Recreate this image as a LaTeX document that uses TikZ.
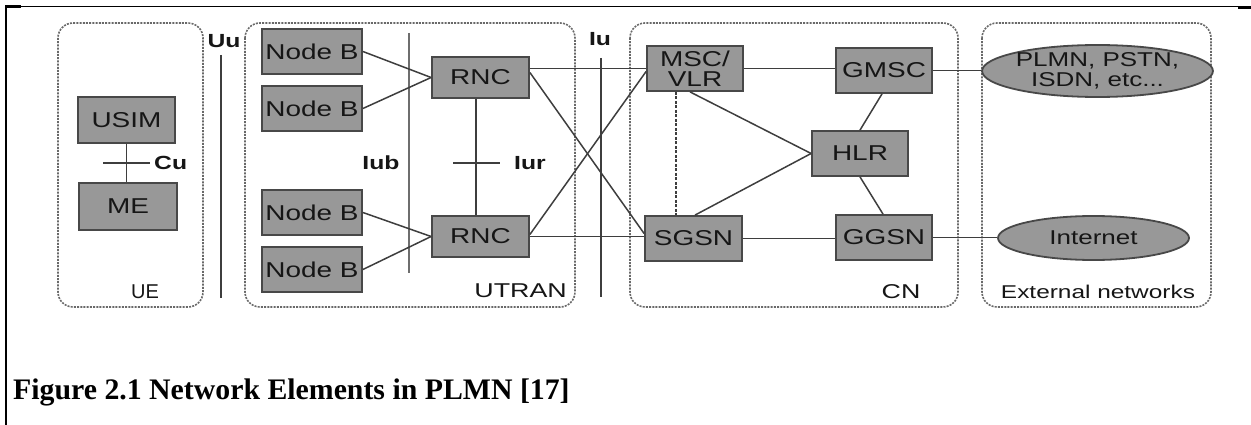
\documentclass[tikz,border=0pt]{standalone}
\usepackage{fontspec}
\setmainfont{Liberation Serif}
\setsansfont{Liberation Sans}
\usepackage{graphicx}
\usetikzlibrary{shapes.geometric}

\definecolor{boxfill}{RGB}{152,152,152}
\definecolor{boxline}{RGB}{72,72,72}
\definecolor{wirecol}{RGB}{62,62,62}
\definecolor{groupcol}{RGB}{105,105,105}
\definecolor{ink}{RGB}{22,22,22}

% horizontally widened sans lettering
\newcommand{\hs}[1]{\scalebox{1.3}[1]{#1}}
\newcommand{\hl}[1]{\scalebox{1.34}[1]{#1}}

\begin{document}
\begin{tikzpicture}[x=1pt,y=-1pt,
  elem/.style={draw=boxline, fill=boxfill, line width=1.8pt,
    minimum width=97pt, minimum height=45pt, inner sep=0pt,
    text=ink, font=\sffamily\fontsize{21.5}{20}\selectfont, align=center},
  cloud/.style={ellipse, draw=boxline, fill=boxfill, line width=1.8pt,
    inner sep=0pt, text=ink, font=\sffamily\fontsize{20}{20}\selectfont, align=center},
  group/.style={draw=groupcol, line width=1.6pt, dash pattern=on 2pt off 1.2pt,
    rounded corners=15pt},
  wire/.style={draw=wirecol, line width=1.5pt},
  iface/.style={draw=wirecol, line width=2pt},
  glabel/.style={text=ink, font=\sffamily\fontsize{20}{20}\selectfont, inner sep=0pt},
  ilabel/.style={text=ink, font=\sffamily\bfseries\fontsize{19}{20}\selectfont, inner sep=0pt}
]
\useasboundingbox (0,0) rectangle (1251,425);

% page frame
\draw[line width=1.1pt] (6,6.8) -- (1251,6.8);
\draw[line width=2.3pt] (6.2,6) -- (6.2,425);
\draw[line width=3pt] (5,6.6) -- (21,6.6);
\draw[line width=2.7pt] (1238,8) -- (1251,8);

% domain groups
\draw[group] (58,23) rectangle (203,307);
\draw[group] (245,23) rectangle (575,307);
\draw[group] (630,23) rectangle (958,307);
\draw[group] (982,23) rectangle (1211,307);

\node[glabel] (uelbl) at (145,292) {UE};
\node[glabel, anchor=east] (utranlbl) at (567,291) {\hl{UTRAN}};
\node[glabel] (cnlbl) at (901,292) {\hl{CN}};
\node[glabel, font=\sffamily\fontsize{18.5}{20}\selectfont] (extlbl) at (1098,292) {\scalebox{1.32}[1]{External networks}};

% interface reference lines
\coordinate (uuT) at (221,55);  \coordinate (uuB) at (221,298);
\coordinate (iubT) at (409,33); \coordinate (iubB) at (409,273);
\coordinate (iuT) at (601,58);  \coordinate (iuB) at (601,297);
\draw[iface] (uuT) -- (uuB);
\draw[iface, draw=wirecol!75, line width=1.8pt] (iubT) -- (iubB);
\draw[iface] (iuT) -- (iuB);
\node[ilabel] (uulbl) at (224,41) {\hs{Uu}};
\node[ilabel] (iulbl) at (600,39) {\hs{Iu}};
\node[ilabel] (iublbl) at (381,163) {\hs{Iub}};

% user equipment
\node[elem, minimum width=97pt, minimum height=46pt] (usim) at (126.5,120) {\hs{USIM}};
\node[elem, minimum width=98pt, minimum height=47pt] (me) at (128,206.5) {\hs{ME}};
\draw[wire] (usim.south) -- (usim.south |- me.north);
\coordinate (cuL) at (103,163); \coordinate (cuR) at (150,163);
\draw[wire] (cuL) -- (cuR);
\node[ilabel, anchor=west] (culbl) at (154,163) {\hs{Cu}};

% radio access network
\node[elem, minimum width=100pt] (nb1) at (312,51.5) {\hs{Node B}};
\node[elem, minimum width=100pt] (nb2) at (312,108.5) {\hs{Node B}};
\node[elem, minimum width=100pt] (nb3) at (312,212.5) {\hs{Node B}};
\node[elem, minimum width=100pt] (nb4) at (312,269.5) {\hs{Node B}};
\node[elem, minimum height=41pt] (rnc1) at (480.5,77.5) {\hs{RNC}};
\node[elem, minimum height=41pt] (rnc2) at (480.5,236.5) {\hs{RNC}};

\draw[wire] (nb1.east) -- (rnc1.west);
\draw[wire] (nb2.east) -- (rnc1.west);
\draw[wire] (nb3.east) -- (rnc2.west);
\draw[wire] (nb4.east) -- (rnc2.west);

\coordinate (iurx) at (476,0);
\draw[wire] (rnc1.south -| iurx) -- (rnc2.north -| iurx);
\coordinate (iurL) at (453,163); \coordinate (iurR) at (500,163);
\draw[wire] (iurL) -- (iurR);
\node[ilabel, anchor=west] (iurlbl) at (514,163) {\hs{Iur}};

% core network
\node[elem, minimum width=96pt] (msc) at (695,68.5) {\hs{MSC/}\\\hs{VLR}};
\node[elem] (sgsn) at (693.5,238.5) {\hs{SGSN}};
\node[elem, minimum width=96pt] (gmsc) at (884,70.5) {\hs{GMSC}};
\node[elem, minimum width=96pt] (hlr) at (860,153.5) {\hs{HLR}};
\node[elem, minimum width=96pt] (ggsn) at (884,237.5) {\hs{GGSN}};

% external networks
\node[cloud, minimum width=219pt, minimum height=52pt] (plmn) at (1097.5,71)
  {\hs{PLMN, PSTN,}\\\hs{ISDN, etc...}};
\node[cloud, minimum width=191pt, minimum height=44pt] (inet) at (1093.5,238)
  {\hs{Internet}};

% access to core links
\draw[wire] (rnc1.east |- msc.west) -- (msc.west);
\draw[wire] ([yshift=5pt]rnc1.east) -- ([yshift=5pt]sgsn.west);
\draw[wire] ([yshift=2pt]rnc2.east) -- ([yshift=-3pt]msc.west);
\draw[wire] (rnc2.east) -- (rnc2.east -| sgsn.west);

% core links
\coordinate (dx) at (676,0);
\draw[wire, dash pattern=on 3pt off 1.5pt, line width=1.3pt] (msc.south -| dx) -- (sgsn.north -| dx);
\draw[wire] ([xshift=-5pt]msc.south) -- (hlr.west);
\draw[wire] ([xshift=1.5pt]sgsn.north) -- (hlr.west);
\draw[wire] (msc.east) -- (msc.east -| gmsc.west);
\draw[wire] ([xshift=-2pt]gmsc.south) -- (hlr.north);
\draw[wire] (hlr.south) -- ([xshift=-1pt]ggsn.north);
\draw[wire] (sgsn.east) -- (sgsn.east -| ggsn.west);
\draw[wire] (gmsc.east) -- (gmsc.east -| plmn.west);
\draw[wire] (ggsn.east) -- (ggsn.east -| inet.west);

% caption
\node[anchor=base west, inner sep=0pt, text=black,
  font=\rmfamily\bfseries\fontsize{29.8}{30}\selectfont] (caption) at (13,399)
  {Figure 2.1 Network Elements in PLMN [17]};
\end{tikzpicture}
\end{document}
